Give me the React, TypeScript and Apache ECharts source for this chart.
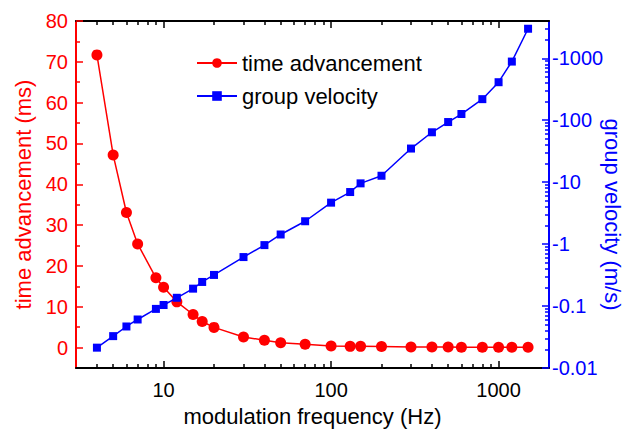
import React, { useEffect, useRef } from "react";
import * as echarts from "echarts";

// ---- data ----
const frequency = [4, 5, 6, 7, 9, 10, 12, 15, 17, 20, 30, 40, 50, 70, 100, 130, 150, 200, 300, 400, 500, 600, 800, 1000, 1200, 1500];
const timeAdvancement = [71.7, 47.2, 33.1, 25.4, 17.1, 14.8, 11.2, 8.1, 6.4, 4.95, 2.6, 1.8, 1.2, 0.8, 0.4, 0.3, 0.3, 0.25, 0.15, 0.13, 0.12, 0.11, 0.1, 0.1, 0.09, 0.08];
const groupVelocity = [0.0213, 0.0327, 0.0468, 0.0607, 0.09, 0.104, 0.136, 0.191, 0.245, 0.318, 0.618, 0.964, 1.43, 2.34, 4.67, 6.93, 9.57, 12.7, 34.9, 63.9, 93.5, 126, 219, 411, 885, 3000];

// ---- axis ticks ----
const xMajorTicks = [10, 100, 1000];
const yLeftMajorTicks = [0, 10, 20, 30, 40, 50, 60, 70, 80];
const yLeftMinorTicks = [5, 15, 25, 35, 45, 55, 65, 75];
const yRightMajorTicks = [0.01, 0.1, 1, 10, 100, 1000];

const X_MIN = 3;
const X_MAX = 2000;
const YL_MIN = -5;
const YL_MAX = 80;
const YR_MIN = 0.01;
const YR_MAX = 4000;

const RED = "#ff0000";
const BLUE = "#0000ff";
const BLACK = "#000000";
const FONT = "Liberation Sans, Arial, sans-serif";

const lg = Math.log10;

function logMinor(lo: number, hi: number): number[] {
  const out: number[] = [];
  for (let e = Math.floor(lg(lo)); e <= Math.ceil(lg(hi)); e++) {
    for (let m = 2; m <= 9; m++) {
      const v = m * Math.pow(10, e);
      if (v > lo && v < hi) out.push(lg(v));
    }
  }
  return out;
}

function fmtPow(v: number): string {
  return String(+Math.pow(10, v).toPrecision(3));
}

function tickAxis(opts: any) {
  return {
    type: "value",
    splitLine: { show: false },
    axisLine: { show: false, onZero: false },
    axisLabel: { show: false },
    ...opts,
  };
}

export default function App() {
  const ref = useRef<HTMLDivElement>(null);

  useEffect(() => {
    if (!ref.current) return;
    const chart = echarts.init(ref.current, undefined, { renderer: "svg" });

    const xMajorLog = xMajorTicks.map(lg);
    const xMinorLog = logMinor(X_MIN, X_MAX);
    const yRMajorLog = yRightMajorTicks.map(lg);
    const yRMinorLog = logMinor(YR_MIN, YR_MAX);

    const option: any = {
      animation: false,
      textStyle: { fontFamily: FONT },
      grid: { left: 76, right: 76, top: 21, bottom: 61, containLabel: false, outerBoundsMode: "none" },
      legend: {
        data: ["time advancement", "group velocity"],
        orient: "vertical",
        left: 191,
        top: 47,
        itemWidth: 40,
        itemHeight: 12,
        itemGap: 11,
        textStyle: { fontSize: 22, color: BLACK, fontFamily: FONT },
      },
      xAxis: [
        {
          type: "log",
          logBase: 10,
          min: X_MIN,
          max: X_MAX,
          position: "bottom",
          axisLine: { onZero: false, lineStyle: { color: BLACK, width: 2 } },
          axisTick: { show: false },
          axisLabel: { show: false },
          splitLine: { show: false },
          name: "modulation frequency (Hz)",
          nameLocation: "middle",
          nameGap: 37,
          nameTextStyle: { fontSize: 22, color: BLACK, fontFamily: FONT },
        },
        tickAxis({
          min: lg(X_MIN),
          max: lg(X_MAX),
          position: "bottom",
          axisTick: { show: true, inside: true, length: 7, customValues: xMajorLog, lineStyle: { color: BLACK, width: 1.5 } },
          axisLabel: { show: true, customValues: xMajorLog, formatter: fmtPow, fontSize: 20, color: BLACK, margin: 12, fontFamily: FONT },
        }),
        tickAxis({
          min: lg(X_MIN),
          max: lg(X_MAX),
          position: "bottom",
          axisTick: { show: true, inside: true, length: 4, customValues: xMinorLog, lineStyle: { color: BLACK, width: 1.5 } },
        }),
        tickAxis({
          min: lg(X_MIN),
          max: lg(X_MAX),
          position: "top",
          axisLine: { show: true, onZero: false, lineStyle: { color: BLACK, width: 2 } },
          axisTick: { show: true, inside: true, length: 7, customValues: xMajorLog, lineStyle: { color: BLACK, width: 1.5 } },
        }),
        tickAxis({
          min: lg(X_MIN),
          max: lg(X_MAX),
          position: "top",
          axisTick: { show: true, inside: true, length: 4, customValues: xMinorLog, lineStyle: { color: BLACK, width: 1.5 } },
        }),
      ],
      yAxis: [
        {
          type: "value",
          min: YL_MIN,
          max: YL_MAX,
          position: "left",
          axisLine: { show: true, onZero: false, lineStyle: { color: RED, width: 2 } },
          axisTick: { show: true, inside: true, length: 7, customValues: yLeftMajorTicks, lineStyle: { color: RED, width: 1.5 } },
          axisLabel: { customValues: yLeftMajorTicks, fontSize: 20, color: RED, margin: 8, fontFamily: FONT },
          splitLine: { show: false },
          name: "time advancement (ms)",
          nameLocation: "middle",
          nameGap: 42,
          nameTextStyle: { fontSize: 22, color: RED, fontFamily: FONT },
        },
        {
          type: "log",
          logBase: 10,
          min: YR_MIN,
          max: YR_MAX,
          position: "right",
          axisLine: { show: true, onZero: false, lineStyle: { color: BLUE, width: 2 } },
          axisTick: { show: false },
          axisLabel: { show: false },
          splitLine: { show: false },
          name: "group velocity (m/s)",
          nameLocation: "middle",
          nameRotate: -90,
          nameGap: 52,
          nameTextStyle: { fontSize: 22, color: BLUE, fontFamily: FONT, padding: [0, 0, 0, 40] },
        },
        tickAxis({
          min: YL_MIN,
          max: YL_MAX,
          position: "left",
          axisTick: { show: true, inside: true, length: 4, customValues: yLeftMinorTicks, lineStyle: { color: RED, width: 1.5 } },
        }),
        tickAxis({
          min: lg(YR_MIN),
          max: lg(YR_MAX),
          position: "right",
          axisTick: { show: true, inside: true, length: 7, customValues: yRMajorLog, lineStyle: { color: BLUE, width: 1.5 } },
          axisLabel: {
            show: true,
            customValues: yRMajorLog,
            formatter: (v: number) => "-" + fmtPow(v),
            fontSize: 20,
            color: BLUE,
            margin: 3,
            fontFamily: FONT,
          },
        }),
        tickAxis({
          min: lg(YR_MIN),
          max: lg(YR_MAX),
          position: "right",
          axisTick: { show: true, inside: true, length: 4, customValues: yRMinorLog, lineStyle: { color: BLUE, width: 1.5 } },
        }),
      ],
      series: [
        {
          name: "time advancement",
          type: "line",
          xAxisIndex: 0,
          yAxisIndex: 0,
          data: frequency.map((f, i) => [f, timeAdvancement[i]]),
          symbol: "circle",
          symbolSize: 11,
          showAllSymbol: true,
          lineStyle: { color: RED, width: 1.5 },
          itemStyle: { color: RED },
          z: 3,
        },
        {
          name: "group velocity",
          type: "line",
          xAxisIndex: 0,
          yAxisIndex: 1,
          data: frequency.map((f, i) => [f, groupVelocity[i]]),
          symbol: "rect",
          symbolSize: 8,
          showAllSymbol: true,
          lineStyle: { color: BLUE, width: 1.5 },
          itemStyle: { color: BLUE },
          z: 4,
        },
      ],
    };

    chart.setOption(option);
    return () => chart.dispose();
  }, []);

  return (
    <div
      ref={ref}
      style={{ position: "fixed", left: 0, top: 0, width: 625, height: 429, background: "#fff" }}
    />
  );
}
